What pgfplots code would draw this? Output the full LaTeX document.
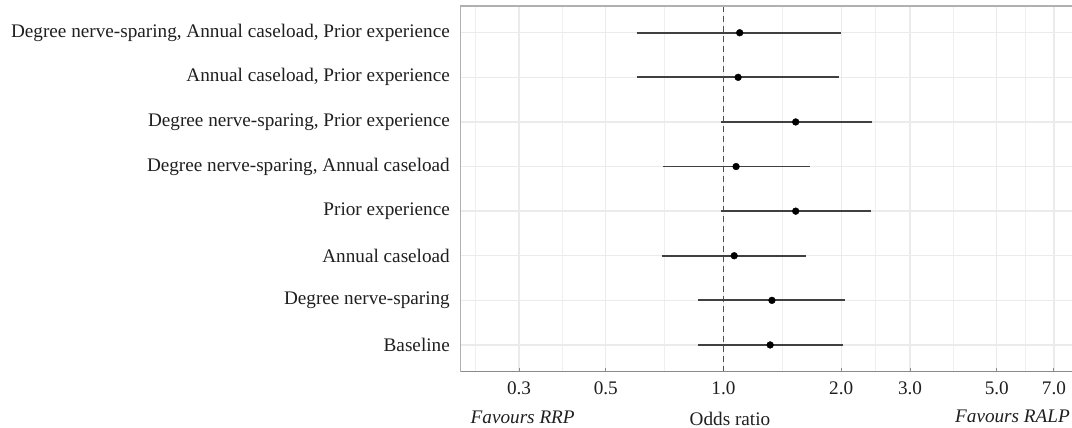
\documentclass[border=0pt]{standalone}
\usepackage{fontspec}
\setmainfont{Liberation Serif}
\usepackage{pgfplots}
\pgfplotsset{compat=1.18}
\usepackage{pgfplotstable}

\definecolor{gridc}{HTML}{EBEBEB}
\definecolor{barc}{HTML}{404040}
\definecolor{borderc}{HTML}{B0B0B0}
\definecolor{axisc}{HTML}{8A8A8A}
\definecolor{refc}{HTML}{505050}

% odds ratio and 95% CI, row 1 = Baseline (bottom)
\pgfplotstableread{
y  or     lo     hi
1  1.316  0.862  2.02
2  1.330  0.862  2.04
3  1.065  0.696  1.63
4  1.530  0.985  2.39
5  1.077  0.700  1.66
6  1.530  0.985  2.40
7  1.090  0.600  1.97
8  1.100  0.600  2.00
}\ortable

% the same intervals as segments
\pgfplotstableread{
x      y
0.862  1
2.02   1
nan    nan
0.862  2
2.04   2
nan    nan
0.696  3
1.63   3
nan    nan
0.985  4
2.39   4
nan    nan
0.700  5
1.66   5
nan    nan
0.985  6
2.40   6
nan    nan
0.600  7
1.97   7
nan    nan
0.600  8
2.00   8
}\citable

\begin{document}
\begin{tikzpicture}
\useasboundingbox (0,0) rectangle (1072bp,428bp);
\begin{axis}[
  at={(460.7bp,56.3bp)}, anchor=south west,
  scale only axis, width=611.3bp, height=365.7bp,
  xmode=log, xmin=0.2128, xmax=7.785, ymin=0.4, ymax=8.6,
  axis line style={draw=none},
  xtick={0.3,0.5,1,2,3,5,7},
  xticklabels={0.3,0.5,1.0,2.0,3.0,5.0,7.0},
  minor xtick={0.2324,0.3873,0.7071,1.4142,2.4495,3.8730,5.9161},
  ytick={1,...,8},
  yticklabels={Baseline\hspace{5bp}, Degree nerve-sparing, Annual caseload, Prior experience,
    {Degree nerve-sparing, Annual caseload}, {Degree nerve-sparing, Prior experience},
    {Annual caseload, Prior experience}, {Degree nerve-sparing, Annual caseload, Prior experience}},
  xmajorgrids, xminorgrids, ymajorgrids,
  major grid style={gridc, line width=1.3bp},
  minor grid style={gridc!80, line width=1bp},
  tick align=inside, xtick pos=lower,
  xtick style={axisc, line width=1bp},
  major tick length=4bp, minor tick length=0pt,
  ytick style={draw=none},
  tick label style={font=\fontsize{19.2bp}{23bp}\selectfont, text=black!88, inner sep=0pt},
  xticklabel style={anchor=north},
  yticklabel style={anchor=east},
  xticklabel shift=10bp, yticklabel shift=10.7bp,
  unbounded coords=jump,
  clip mode=individual,
]
\addplot[refc, line width=1.7bp, dash pattern=on 6bp off 4bp] coordinates {(1,0.4) (1,8.6)};
\addplot[barc, line width=1.9bp] table {\citable};
\addplot[only marks, mark=*, mark size=3.4bp, black] table[x=or, y=y] {\ortable};
\draw[borderc, line width=1.2bp] (rel axis cs:0,0) -- (rel axis cs:0,1) -- (rel axis cs:1,1);
\draw[axisc, line width=1.3bp] (rel axis cs:0,0) -- (rel axis cs:1,0);
\end{axis}
\begin{scope}[every node/.style={inner sep=0pt, text=black!88, font=\fontsize{19.2bp}{23bp}\selectfont}]
\node at (522.7bp,11bp) {\itshape Favours RRP};
\node at (730bp,9bp) {Odds ratio};
\node at (1012.5bp,11.5bp) {\itshape Favours RALP};
\end{scope}
\end{tikzpicture}
\end{document}
